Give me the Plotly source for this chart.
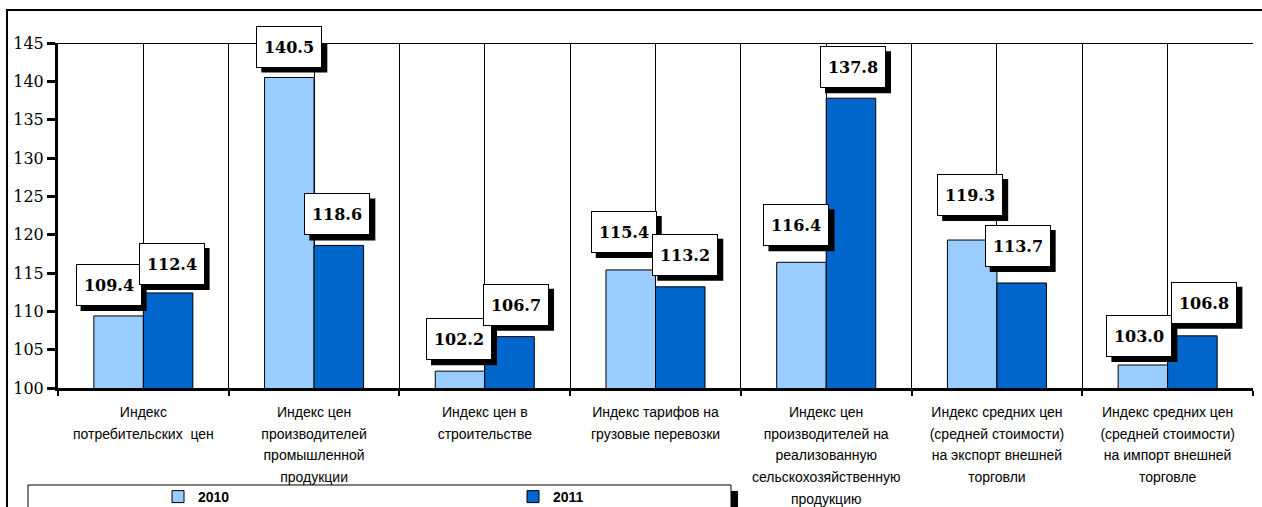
import plotly.graph_objects as go

categories = [
    "Индекс<br>потребительских  цен",
    "Индекс цен<br>производителей<br>промышленной<br>продукции",
    "Индекс цен в<br>строительстве",
    "Индекс тарифов на<br>грузовые перевозки",
    "Индекс цен<br>производителей на<br>реализованную<br>сельскохозяйственную<br>продукцию",
    "Индекс средних цен<br>(средней стоимости)<br>на экспорт внешней<br>торговли",
    "Индекс средних цен<br>(средней стоимости)<br>на импорт внешней<br>торговле",
]
series_names = ["2010", "2011"]
v2010 = [109.4, 140.5, 102.2, 115.4, 116.4, 119.3, 103.0]
v2011 = [112.4, 118.6, 106.7, 113.2, 137.8, 113.7, 106.8]
y_ticks = [100, 105, 110, 115, 120, 125, 130, 135, 140, 145]

# label nudges (pixels) to mimic hand-placed labels
nudge_x = [[-10, 0, -1, -7, -5, -2, -3.5], [3.5, -1.5, 6.5, 5, 2, -4, 12]]
nudge_y = [[10, 10, 11, 17, 16, 24, 8], [8, 10, 11, 11, 10, 16, 12]]

colors = ["#99CCFF", "#0066CC"]
W, H = 1262, 507
L, R, T, B = 58, 9, 43, 119
PW, PH = W - L - R, H - T - B
BARGAP = 0.42
BOX_W, BOX_H, PAD = 52, 28, 6
OUT_W, OUT_H = BOX_W + 2 * PAD + 2, BOX_H + 2 * PAD + 2
SH = 5  # shadow offset

def px2x(px):
    return (px - L) / PW

def py2y(py):
    return (H - B - py) / PH

n = len(categories)
xs = list(range(n))
fig = go.Figure()
for k, (name, vals) in enumerate(zip(series_names, [v2010, v2011])):
    fig.add_trace(go.Bar(
        x=xs, y=vals, name=name,
        marker=dict(color=colors[k], line=dict(color="black", width=1)),
    ))

half = (1 - BARGAP) / 4
LABEL_FONT = dict(family="DejaVu Serif", size=16, color="black", weight="bold")
annotations = []
shapes = []
for k, vals in enumerate([v2010, v2011]):
    off = -half if k == 0 else half
    for i, v in enumerate(vals):
        nx, ny = nudge_x[k][i], nudge_y[k][i]
        # drop shadow of the label box
        shapes.append(dict(
            type="rect", xref="x", yref="y",
            xsizemode="pixel", ysizemode="pixel", xanchor=i + off, yanchor=v,
            x0=nx - OUT_W / 2 + SH, x1=nx + OUT_W / 2 + SH,
            y0=ny - SH, y1=ny + OUT_H - SH,
            line=dict(width=0), fillcolor="black", layer="above"))
        annotations.append(dict(
            x=i + off, y=v, xref="x", yref="y", text=f"{v:.1f}",
            showarrow=False, yanchor="bottom", xanchor="center",
            width=BOX_W, height=BOX_H, borderpad=PAD, borderwidth=1,
            bgcolor="white", bordercolor="black",
            xshift=nx, yshift=ny, font=LABEL_FONT))

ticktext = ["<br>".join(f'<span style="font-size:14px">{ln}</span>' for ln in c.split("<br>"))
            for c in categories]

shapes += [
    # outer chart border
    dict(type="rect", xref="paper", yref="paper",
         x0=px2x(7), x1=px2x(1300), y0=py2y(560), y1=py2y(10),
         line=dict(color="black", width=2), fillcolor="rgba(0,0,0,0)", layer="below"),
    # top border of plot area
    dict(type="line", xref="paper", yref="y", x0=0, x1=1, y0=145, y1=145,
         line=dict(color="black", width=2)),
    # legend box shadow
    dict(type="rect", xref="paper", yref="paper",
         x0=px2x(731), x1=px2x(738), y0=py2y(540), y1=py2y(491),
         line=dict(width=0), fillcolor="black"),
    # legend box
    dict(type="rect", xref="paper", yref="paper",
         x0=px2x(28), x1=px2x(731), y0=py2y(540), y1=py2y(485),
         line=dict(color="black", width=1), fillcolor="white"),
]

fig.update_layout(
    width=W, height=H,
    margin=dict(l=L, r=R, t=T, b=B, pad=0, autoexpand=False),
    paper_bgcolor="white", plot_bgcolor="white",
    barmode="group", bargap=BARGAP, bargroupgap=0,
    annotations=annotations, shapes=shapes,
    showlegend=True,
    legend=dict(orientation="h", x=px2x(158), y=py2y(497), xanchor="left", yanchor="middle",
                xref="paper", yref="paper",
                bgcolor="rgba(0,0,0,0)", borderwidth=0,
                entrywidth=310, entrywidthmode="pixels",
                font=dict(family="Liberation Sans Narrow, Arial Narrow, Liberation Sans",
                          size=14, color="black", weight="bold"),
                itemclick=False, itemdoubleclick=False),
    xaxis=dict(range=[-0.5, n - 0.5], tickmode="array", tickvals=xs, ticktext=ticktext,
               ticks="", showgrid=True, gridcolor="black", gridwidth=1,
               showline=True, linecolor="black", linewidth=3, zeroline=False,
               ticklabelstandoff=6, automargin=False,
               tickfont=dict(family="Liberation Sans Narrow, Arial Narrow, Liberation Sans",
                             size=16.7, color="black"),
               minor=dict(tickmode="array", tickvals=[i - 0.5 for i in range(n + 1)],
                          ticks="outside", ticklen=5, tickwidth=2, tickcolor="black",
                          showgrid=True, gridcolor="black", gridwidth=1),
               fixedrange=True),
    yaxis=dict(range=[100, 145], tickmode="array", tickvals=y_ticks,
               ticks="outside", ticklen=8, tickwidth=3, tickcolor="black",
               showgrid=False, zeroline=False, automargin=False,
               showline=True, linecolor="black", linewidth=3,
               tickfont=dict(family="DejaVu Serif", size=16, color="black"),
               fixedrange=True),
)

fig.write_html(
    "out.html",
    config={"displayModeBar": False},
    post_script="document.body.style.margin='0';document.body.style.overflow='hidden';",
)
